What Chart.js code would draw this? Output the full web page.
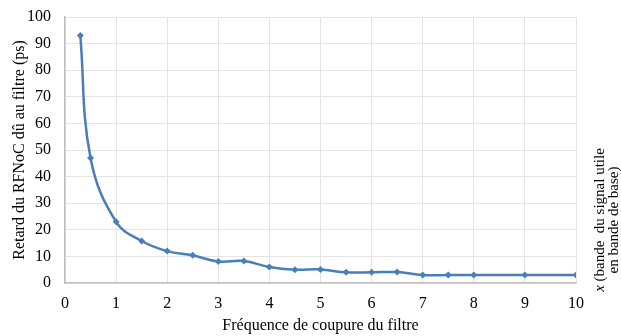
<!DOCTYPE html>
<html>
<head>
<meta charset="utf-8">
<script src="https://cdn.jsdelivr.net/npm/chart.js@4"></script>
<style>
  html, body { margin: 0; padding: 0; background: #fff; }
  #wrap { width: 621px; height: 336px; position: relative; }
</style>
</head>
<body>
<div id="wrap"><canvas id="chart" width="621" height="336"></canvas></div>
<script>
// x = cutoff frequency (in baseband signal bandwidth), y = delay in ps
const cutoffs = [0.3, 0.5, 1, 1.5, 2, 2.5, 3, 3.5, 4, 4.5, 5, 5.5, 6, 6.5, 7, 7.5, 8, 9, 10];
const delays  = [93, 47, 23, 15.8, 12, 10.4, 8.1, 8.3, 6, 5, 5.1, 4, 4, 4.1, 3, 3, 3, 3, 3];

const xTitle = 'Fréquence de coupure du filtre';
const yTitle = 'Retard du RFNoC dû au filtre (ps)';
const sideNote = ['(bande  du signal utile', 'en bande de base)'];

const serif = "'Liberation Serif', 'Times New Roman', serif";
const blue = '#4a7ebb';

// rotated note at the right edge of the chart
const sideNotePlugin = {
    id: 'sideNote',
    afterDraw(chart) {
        const ctx = chart.ctx;
        ctx.save();
        ctx.translate(603, 220);
        ctx.rotate(-Math.PI / 2);
        ctx.fillStyle = '#000';
        ctx.textBaseline = 'middle';
        ctx.textAlign = 'left';
        ctx.font = 'italic 15px ' + serif;
        const xw = ctx.measureText('x ').width;
        ctx.font = '15px ' + serif;
        const w1 = ctx.measureText(sideNote[0]).width + xw;
        ctx.font = 'italic 15px ' + serif;
        ctx.fillText('x', -w1 / 2, -3);
        ctx.font = '15px ' + serif;
        ctx.fillText(sideNote[0], -w1 / 2 + xw, -3);
        ctx.textAlign = 'center';
        ctx.fillText(sideNote[1], 0, 11);
        ctx.restore();
    }
};

new Chart(document.getElementById('chart'), {
    type: 'line',
    data: {
        datasets: [{
            data: cutoffs.map((x, i) => ({ x: x, y: delays[i] })),
            borderColor: blue,
            backgroundColor: blue,
            borderWidth: 2.5,
            tension: 0.4,
            pointStyle: 'rectRot',
            pointRadius: 3.5,
            pointBorderWidth: 0,
            fill: false
        }]
    },
    options: {
        responsive: false,
        animation: false,
        layout: { padding: { left: 0, right: 45, top: 17, bottom: 1 } },
        plugins: {
            legend: { display: false },
            tooltip: { enabled: false }
        },
        scales: {
            x: {
                type: 'linear',
                min: 0,
                max: 10,
                afterFit(scale) { scale.height = 52; },
                ticks: { stepSize: 1, color: '#000', font: { family: serif, size: 16 }, padding: 11 },
                grid: { color: '#e4e4e4', drawTicks: false },
                border: { color: '#bfbfbf', width: 1.5 },
                title: { display: true, text: xTitle, color: '#000', font: { family: serif, size: 16 }, padding: { top: 0, bottom: 0 } }
            },
            y: {
                min: 0,
                max: 100,
                afterFit(scale) { scale.width = 65; scale.paddingTop = 0; scale.paddingBottom = 0; },
                ticks: { stepSize: 10, color: '#000', font: { family: serif, size: 16 }, padding: 14 },
                grid: { color: '#e4e4e4', drawTicks: false },
                border: { color: '#bfbfbf', width: 1.5 },
                title: { display: true, text: yTitle, color: '#000', font: { family: serif, size: 16 }, padding: { top: 10, bottom: 0 } }
            }
        }
    },
    plugins: [sideNotePlugin]
});
</script>
</body>
</html>
